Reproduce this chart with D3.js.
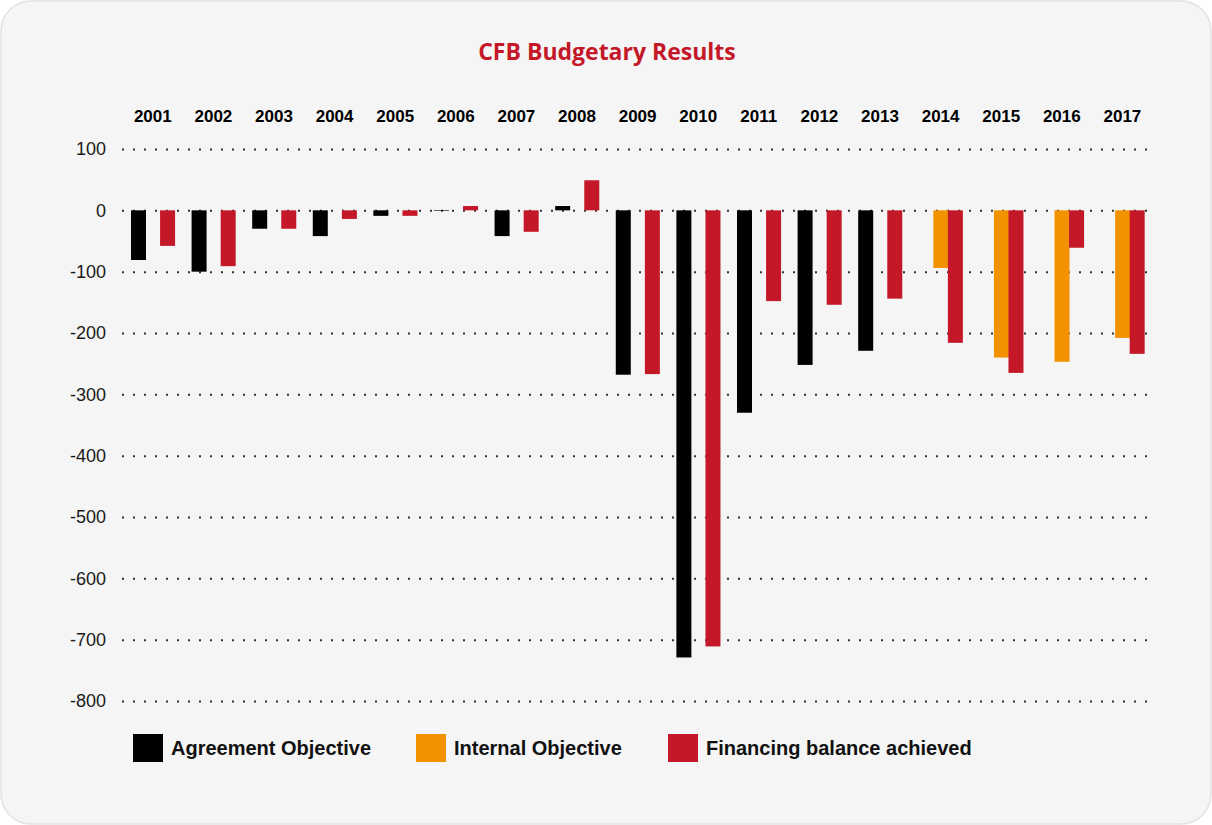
<!DOCTYPE html>
<html>
<head>
<meta charset="utf-8">
<script src="https://cdn.jsdelivr.net/npm/d3@7"></script>
<style>
  html, body { margin: 0; padding: 0; background: #ffffff; }
  svg text { font-family: "Liberation Sans Narrow", "Liberation Sans", sans-serif; }
</style>
</head>
<body>
<svg id="chart" width="1212" height="825"></svg>
<script>
// chart values
const years = ["2001","2002","2003","2004","2005","2006","2007","2008","2009",
               "2010","2011","2012","2013","2014","2015","2016","2017"];
const agreementObjective = [-81, -100, -30, -42, -9, -1, -42, 7, -268, -729, -330, -252, -229, null, null, null, null];
const internalObjective  = [null, null, null, null, null, null, null, null, null, null, null, null, null, -94, -240, -247, -208];
const financingBalance   = [-58, -91, -30, -14, -9, 7, -35, 49, -267, -711, -148, -154, -144, -216, -265, -61, -234];
const yTicks = [100, 0, -100, -200, -300, -400, -500, -600, -700, -800];

const series = [
  { key: "agreement", label: "Agreement Objective", color: "#000000", values: agreementObjective },
  { key: "internal",  label: "Internal Objective",  color: "#f39200", values: internalObjective },
  { key: "financing", label: "Financing balance achieved", color: "#c41829", values: financingBalance }
];

const svg = d3.select("#chart");

// panel background
svg.append("rect")
  .attr("x", 1).attr("y", 1)
  .attr("width", 1210).attr("height", 823)
  .attr("rx", 30).attr("ry", 30)
  .attr("fill", "#f5f5f5")
  .attr("stroke", "#e2e2e2")
  .attr("stroke-width", 1.5);

// title
svg.append("text")
  .attr("x", 607).attr("y", 60)
  .attr("text-anchor", "middle")
  .attr("fill", "#c41829")
  .style("font-family", "'Open Sans', sans-serif")
  .style("font-weight", "700")
  .style("font-size", "23px")
  .text("CFB Budgetary Results");

// scales
const x = d3.scaleBand()
  .domain(years)
  .range([122.5, 1152.7])
  .paddingInner(0.28)
  .paddingOuter(0.14);

const sub = d3.scaleBand()
  .domain(series.map(s => s.key))
  .range([0, x.bandwidth()]);

const y = d3.scaleLinear()
  .domain([100, -800])
  .range([149, 701]);

// grid + y labels
const yAxis = svg.append("g")
  .attr("transform", "translate(122,0)")
  .call(d3.axisLeft(y).tickValues(yTicks).tickSizeInner(-1030).tickSizeOuter(0).tickPadding(16).tickFormat(d => String(d)));
yAxis.select(".domain").remove();
yAxis.selectAll(".tick line")
  .attr("stroke", "#333")
  .attr("stroke-width", 2)
  .attr("stroke-dasharray", "2,9");
yAxis.selectAll(".tick text")
  .attr("fill", "#1a1a1a")
  .style("font-family", "'Liberation Sans', sans-serif")
  .style("font-size", "18px");

// year labels on top
const xAxis = svg.append("g")
  .attr("transform", "translate(0,122)")
  .call(d3.axisTop(x).tickSize(0).tickPadding(0));
xAxis.select(".domain").remove();
xAxis.selectAll(".tick text")
  .attr("fill", "#000")
  .style("font-weight", "700")
  .style("font-size", "17px");

// bars
series.forEach(s => {
  svg.append("g")
    .selectAll("rect")
    .data(years.map((yr, i) => ({ year: yr, value: s.values[i] })).filter(d => d.value !== null))
    .join("rect")
    .attr("x", d => x(d.year) + sub(s.key))
    .attr("width", 15)
    .attr("y", d => y(Math.max(0, d.value)))
    .attr("height", d => Math.abs(y(d.value) - y(0)))
    .attr("fill", s.color);
});

// legend
const legendX = [133, 416, 668];
const legend = svg.append("g").selectAll("g")
  .data(series)
  .join("g")
  .attr("transform", (d, i) => `translate(${legendX[i]},734)`);
legend.append("rect")
  .attr("width", 30).attr("height", 28)
  .attr("fill", d => d.color);
legend.append("text")
  .attr("x", 38).attr("y", 21)
  .attr("fill", "#111")
  .style("font-weight", "700")
  .style("font-size", "20px")
  .text(d => d.label);
</script>
</body>
</html>
